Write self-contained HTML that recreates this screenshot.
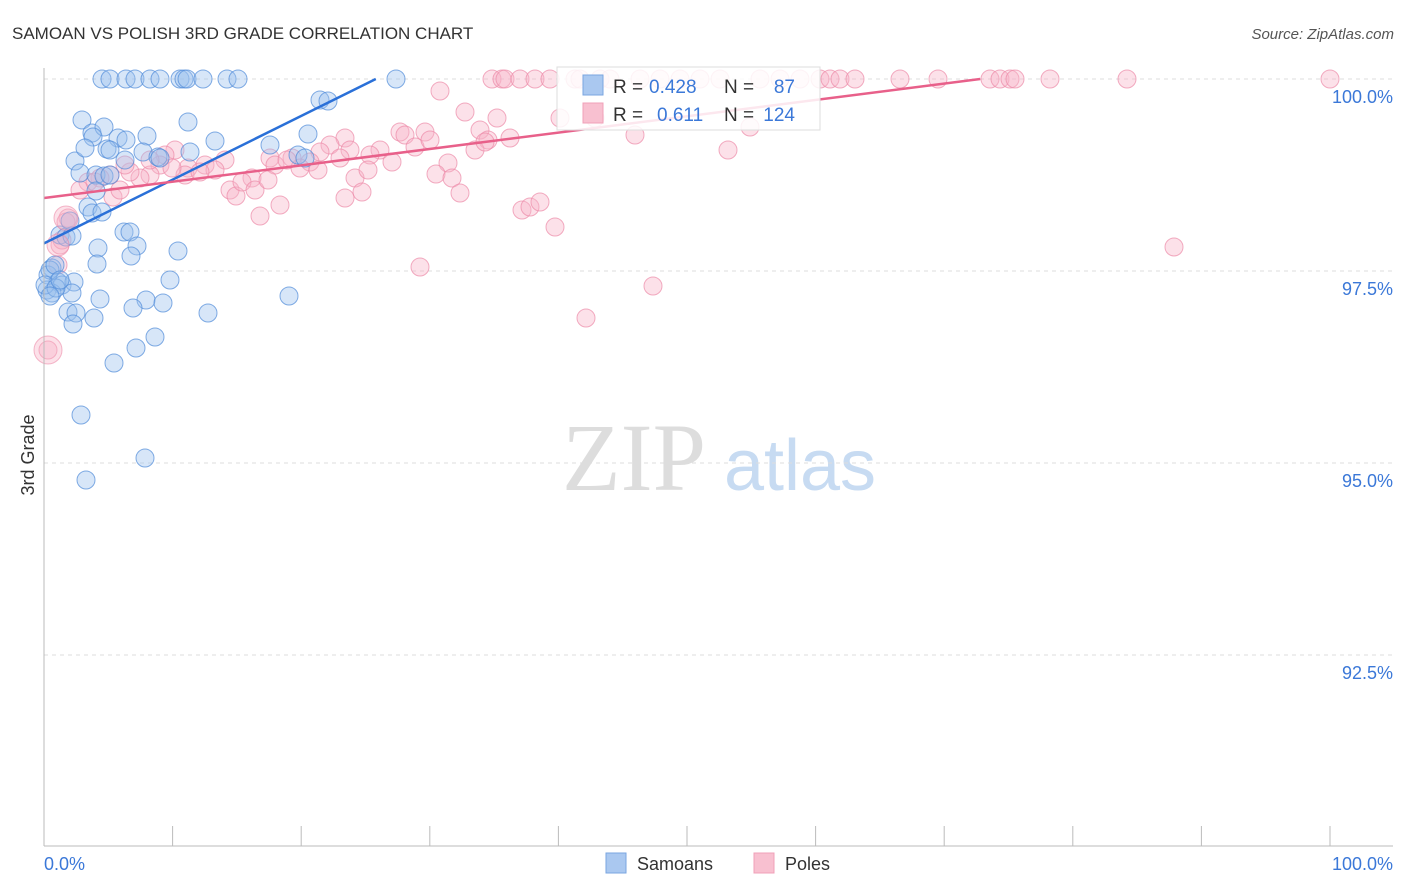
<!DOCTYPE html>
<html><head><meta charset="utf-8"><style>
body{margin:0;background:#fff;font-family:"Liberation Sans",sans-serif;}
svg{display:block}
</style></head><body>
<svg id="chart" width="1406" height="892">
<text x="12" y="39" font-size="17" fill="#333">SAMOAN VS POLISH 3RD GRADE CORRELATION CHART</text>
<text x="1394" y="39" font-size="15" fill="#555" font-style="italic" text-anchor="end">Source: ZipAtlas.com</text>
<text x="634" y="490" font-size="96" fill="#ddd" font-family="Liberation Serif,serif" text-anchor="middle">ZIP</text>
<text x="800" y="490" font-size="72" fill="#c7dbf2" text-anchor="middle">atlas</text>
<text transform="translate(34,455) rotate(-90)" font-size="18" fill="#333" text-anchor="middle">3rd Grade</text>
<g id="grid"></g><g id="pts"></g><g id="lines"></g>
<line x1="44" y1="68" x2="44" y2="846" stroke="#bbb"/>
<line x1="44" y1="846" x2="1393" y2="846" stroke="#bbb"/>
<text x="44" y="870" font-size="18" fill="#3b78d8">0.0%</text>
<text x="1393" y="870" font-size="18" fill="#3b78d8" text-anchor="end">100.0%</text>
<g font-size="19">
<rect x="557" y="67" width="263" height="63" fill="#fff" fill-opacity="0.85" stroke="#ddd"/>
<rect x="583" y="75" width="20" height="20" fill="#aac8f0" stroke="#7aa6e0"/>
<rect x="583" y="103" width="20" height="20" fill="#f8c0d0" stroke="#f0a0b8"/>
<text x="613" y="93" fill="#333">R =</text><text x="649" y="93" fill="#3b78d8">0.428</text>
<text x="724" y="93" fill="#333">N =</text><text x="795" y="93" fill="#3b78d8" text-anchor="end">87</text>
<text x="613" y="121" fill="#333">R =</text><text x="657" y="121" fill="#3b78d8">0.611</text>
<text x="724" y="121" fill="#333">N =</text><text x="795" y="121" fill="#3b78d8" text-anchor="end">124</text>
</g>
<g><rect x="606" y="853" width="20" height="20" fill="#aac8f0" stroke="#7aa6e0"/><text x="637" y="870" font-size="18" fill="#333">Samoans</text></g>
<g><rect x="754" y="853" width="20" height="20" fill="#f8c0d0" stroke="#f0a0b8"/><text x="785" y="870" font-size="18" fill="#333">Poles</text></g>
</svg>
<script>
const yTicks=[100,97.5,95,92.5];
const xTicks=[0,10,20,30,40,50,60,70,80,90,100];
const samP=[
[102,79],[110,79],[126,79],[135,79],[150,79],[160,79],[180,79],[184,79],[187,79],[203,79],[227,79],[238,79],[396,79],
[320,100],[328,101],[82,120],[188,122],[92,133],[104,127],[93,137],[118,138],[126,140],[147,136],[215,141],[308,134],[270,145],[75,161],[85,148],[107,149],[110,150],[125,160],[143,152],[158,157],[160,158],[190,152],[298,155],[305,158],[80,173],[96,175],[104,176],[110,175],[96,191],[88,207],[92,213],[102,212],[70,221],[60,235],[66,237],[72,236],[124,232],[130,232],[137,246],[131,256],[98,248],[178,251],[97,264],[52,268],[48,275],[58,282],[62,285],[47,290],[52,293],[74,282],[72,293],[100,299],[170,280],[289,296],[146,300],[163,303],[133,308],[208,313],[68,312],[76,313],[94,318],[73,324],[155,337],[136,348],[114,363],[81,415],[145,458],[86,480],[50,270],[55,265],[45,285],[56,288],[60,280],[50,296]];
const polP=[
[492,79],[502,79],[505,79],[520,79],[535,79],[550,79],[575,79],[580,79],[600,79],[610,79],[640,79],[660,79],[680,79],[700,79],[720,79],[760,79],[780,79],[800,79],[820,79],[830,79],[840,79],[855,79],[900,79],[938,79],[990,79],[1000,79],[1010,79],[1015,79],[1050,79],[1127,79],[1330,79],
[440,91],[465,112],[497,118],[560,118],[595,118],[480,130],[488,140],[510,138],[635,135],[750,127],[728,150],[345,138],[330,145],[350,150],[400,132],[405,135],[425,132],[415,147],[380,150],[370,155],[392,162],[320,152],[292,158],[270,158],[275,165],[310,162],[300,168],[318,170],[340,158],[475,150],[485,142],[448,163],[436,174],[452,178],[460,193],[355,178],[362,192],[345,198],[225,160],[205,165],[215,170],[188,168],[175,150],[165,155],[160,165],[150,175],[140,178],[130,172],[125,165],[110,175],[100,178],[88,182],[80,190],[113,197],[230,190],[236,196],[252,178],[242,182],[255,190],[280,205],[260,216],[522,210],[530,207],[540,202],[555,227],[420,267],[653,286],[586,318],[1174,247],[68,218],[60,245],[58,265],[48,350],[62,240],[66,222],[95,182],[185,175],[200,172],[268,180],[287,160],[368,170],[430,140],[120,190],[150,160],[172,168]];
const X0=44,XS=12.86,Y0=79,YS=76.8;
const samoanX=samP.map(p=>(p[0]-X0)/XS), samoanY=samP.map(p=>100-(p[1]-Y0)/YS);
const polesX=polP.map(p=>(p[0]-X0)/XS), polesY=polP.map(p=>100-(p[1]-Y0)/YS);
const samoanTrend=[[0,97.86],[25.8,100]];
const polesTrend=[[0,98.45],[72.8,100]];
const sx=v=>X0+v*XS, sy=v=>Y0+(100-v)*YS;
const NS="http://www.w3.org/2000/svg";
function mk(t,a,p){const e=document.createElementNS(NS,t);for(const k in a)e.setAttribute(k,a[k]);p.appendChild(e);return e;}
const grid=document.getElementById('grid');
yTicks.forEach((t,i)=>{
 const l=mk('line',{x1:44,x2:1393,y1:sy(t),y2:sy(t),stroke:'#ddd','stroke-dasharray':'4,4'},grid);
 
 
 const tx=mk('text',{x:1393,y:sy(t)+24,'font-size':18,fill:'#3b78d8','text-anchor':'end'},grid);
 tx.textContent=t.toFixed(1)+'%';
 
 
});
xTicks.forEach(t=>{
 const l=mk('line',{x1:sx(t),x2:sx(t),y1:826,y2:846,stroke:'#bbb'},grid);
 
 
});
const pts=document.getElementById('pts');
polesX.forEach((x,i)=>{
 const c=mk('circle',{cx:sx(x),cy:sy(polesY[i]),r:9,fill:'#f8b4c8','fill-opacity':0.4,stroke:'#ec8aa8','stroke-opacity':0.7},pts);
 
 
});
samoanX.forEach((x,i)=>{
 const c=mk('circle',{cx:sx(x),cy:sy(samoanY[i]),r:9,fill:'#9cc0ee','fill-opacity':0.4,stroke:'#4f8ad8','stroke-opacity':0.7},pts);
 
 
});
[[66,218,12],[48,350,14],[58,245,11]].forEach(p=>{const c=mk('circle',{cx:p[0],cy:p[1],r:p[2],fill:'#f8b4c8','fill-opacity':0.4,stroke:'#ec8aa8','stroke-opacity':0.6},pts);
 
 });
const lines=document.getElementById('lines');
const bl=mk('polyline',{points:samoanTrend.map(p=>sx(p[0])+','+sy(p[1])).join(' '),fill:'none',stroke:'#2a70d8','stroke-width':2.5},lines);


const pl=mk('polyline',{points:polesTrend.map(p=>sx(p[0])+','+sy(p[1])).join(' '),fill:'none',stroke:'#e8608a','stroke-width':2.5},lines);


</script>
</body></html>
